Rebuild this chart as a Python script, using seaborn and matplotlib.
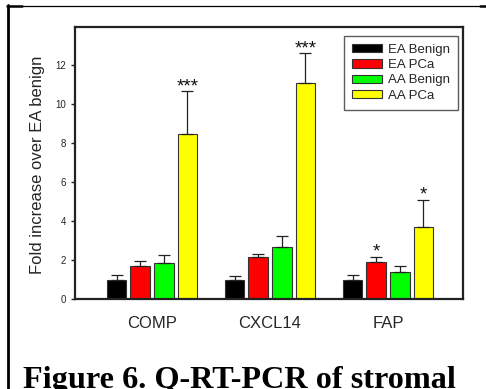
import matplotlib
matplotlib.use("Agg")
import matplotlib.pyplot as plt
import seaborn as sns
import pandas as pd
from matplotlib.patches import Patch
from matplotlib.lines import Line2D

genes = ["COMP", "CXCL14", "FAP"]
groups = ["EA Benign", "EA PCa", "AA Benign", "AA PCa"]

ea_benign = [1.00, 1.00, 1.00]
ea_pca = [1.69, 2.13, 1.89]
aa_benign = [1.83, 2.69, 1.40]
aa_pca = [8.44, 11.10, 3.68]

ea_benign_err = [0.25, 0.20, 0.25]
ea_pca_err = [0.27, 0.17, 0.28]
aa_benign_err = [0.44, 0.53, 0.29]
aa_pca_err = [2.21, 1.51, 1.42]

# significance marks: (gene index, group index, label)
star_gene = [0, 1, 2, 2]
star_group = [3, 3, 1, 3]
star_text = ["***", "***", "*", "*"]

colors = ["#000000", "#ff0000", "#00ff00", "#ffff00"]
y_ticks = [0, 2, 4, 6, 8, 10, 12]
caption = "Figure 6. Q-RT-PCR of stromal"

values = [ea_benign, ea_pca, aa_benign, aa_pca]
errors = [ea_benign_err, ea_pca_err, aa_benign_err, aa_pca_err]

rows = []
for g, vals in zip(groups, values):
    for gene, v in zip(genes, vals):
        rows.append({"gene": gene, "group": g, "value": v})
df = pd.DataFrame(rows)

sns.set_theme(style="white")
plt.rcParams["font.family"] = ["Liberation Sans", "DejaVu Sans"]

fig = plt.figure(figsize=(4.86, 3.89), dpi=100)
ax = fig.add_axes([75 / 486, 1 - 299 / 389, 388 / 486, 272 / 389])

sns.barplot(data=df, x="gene", y="value", hue="group", order=genes,
            hue_order=groups, palette=colors, errorbar=None, width=0.8,
            gap=0.17, edgecolor="#333333", linewidth=0.8, legend=False,
            saturation=1, ax=ax)

for cont, err in zip(ax.containers, errors):
    xs = [b.get_x() + b.get_width() / 2 for b in cont]
    ys = [b.get_height() for b in cont]
    ax.errorbar(xs, ys, yerr=[[0] * len(err), err], fmt="none",
                ecolor="#222222", elinewidth=0.9, capsize=4.5,
                capthick=0.9, zorder=1)

for gi, hi, t in zip(star_gene, star_group, star_text):
    bar = ax.containers[hi][gi]
    x = bar.get_x() + bar.get_width() / 2
    y = bar.get_height() + errors[hi][gi]
    ax.text(x, y, t, ha="center", va="baseline", fontsize=13.5,
            color="#111111")

ax.set_xlim(-0.653, 2.636)
ax.set_ylim(0, 13.95)
ax.set_yticks(y_ticks)
ax.set_yticklabels([str(v) for v in y_ticks], fontsize=7)
ax.set_xlabel("")
ax.set_ylabel("Fold increase over EA benign", fontsize=12)
ax.yaxis.set_label_coords(-0.077, 0.494)
ax.tick_params(axis="y", left=True, length=3, width=1, direction="out",
               pad=3.5, color="#222222")
ax.tick_params(axis="x", bottom=False, length=0, pad=12, labelsize=12)
for s in ax.spines.values():
    s.set_visible(True)
    s.set_color("#222222")
    s.set_linewidth(1.6)

handles = [Patch(facecolor=c, edgecolor="#333333", linewidth=0.8) for c in colors]
leg = ax.legend(handles, groups, loc="upper right",
                bbox_to_anchor=(0.987, 0.967), fontsize=9.5,
                frameon=True, fancybox=False, handlelength=2.3,
                handleheight=0.6, labelspacing=0.25, borderpad=0.6,
                handletextpad=0.45, borderaxespad=0)
leg.get_frame().set_edgecolor("#333333")
leg.get_frame().set_linewidth(1.0)

# outer page border
fig.add_artist(Line2D([8 / 486, 8 / 486], [1 - 5 / 389, 0], color="black",
                      linewidth=2.0, transform=fig.transFigure))
fig.add_artist(Line2D([7 / 486, 22 / 486], [1 - 5.5 / 389, 1 - 5.5 / 389],
                      color="black", linewidth=1.8, transform=fig.transFigure))
fig.add_artist(Line2D([22 / 486, 479 / 486], [1 - 5.5 / 389, 1 - 5.5 / 389],
                      color="black", linewidth=0.9, transform=fig.transFigure))
fig.add_artist(Line2D([480 / 486, 486 / 486], [1 - 6 / 389, 1 - 6 / 389],
                      color="black", linewidth=1.8, transform=fig.transFigure))

fig.text(23 / 486, 0.002, caption, ha="left", va="baseline",
         fontsize=23.2, fontweight="bold",
         family=["Liberation Serif", "DejaVu Serif"], color="black")

fig.savefig("out.png", dpi=100)
